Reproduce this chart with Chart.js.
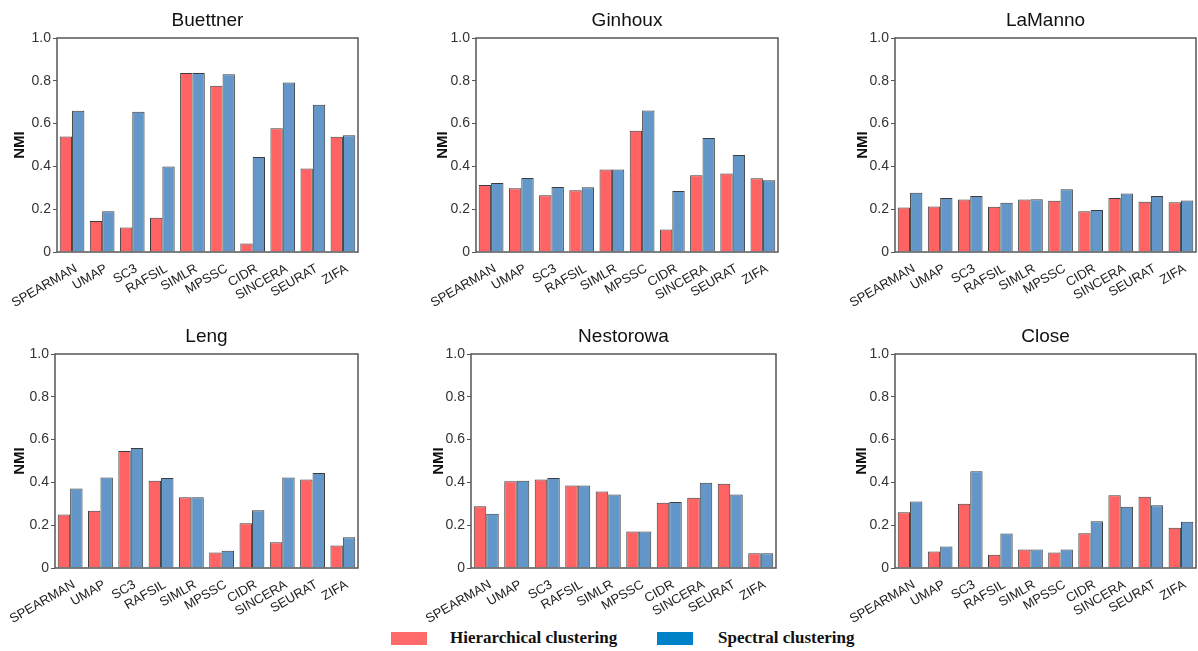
<!DOCTYPE html>
<html>
<head>
<meta charset="utf-8">
<script src="https://cdn.jsdelivr.net/npm/chart.js@4.4.0/dist/chart.umd.min.js"></script>
<style>
  body { margin: 0; background: #fff; width: 1198px; height: 651px; position: relative; overflow: hidden; }
  canvas { position: absolute; }
  .key { position: absolute; top: 632px; width: 36px; height: 13px; }
  .lab { position: absolute; top: 627px; font: bold 17px "Liberation Serif", "Times New Roman", serif; color: #111; line-height: 22px; }
</style>
</head>
<body>
<canvas id="c0" width="360" height="310" style="left:0px;top:0px"></canvas>
<canvas id="c1" width="357" height="310" style="left:423px;top:0px"></canvas>
<canvas id="c2" width="355" height="310" style="left:843px;top:0px"></canvas>
<canvas id="c3" width="360" height="310" style="left:0px;top:316px"></canvas>
<canvas id="c4" width="359" height="310" style="left:419px;top:316px"></canvas>
<canvas id="c5" width="356" height="310" style="left:842px;top:316px"></canvas>

<div class="key" style="left:391px;background:#ff6b6b"></div>
<div class="lab" style="left:450px">Hierarchical clustering</div>
<div class="key" style="left:657px;background:#0082c8"></div>
<div class="lab" style="left:718px">Spectral clustering</div>

<script>
// methods on the x axis
const methods = ['SPEARMAN', 'UMAP', 'SC3', 'RAFSIL', 'SIMLR', 'MPSSC', 'CIDR', 'SINCERA', 'SEURAT', 'ZIFA'];
const yTicks = [0, 0.2, 0.4, 0.6, 0.8, 1.0];
const seriesNames = ['Hierarchical clustering', 'Spectral clustering'];

// NMI values
const buettnerHier = [0.54, 0.145, 0.115, 0.16, 0.836, 0.777, 0.04, 0.578, 0.39, 0.538];
const buettnerSpec = [0.66, 0.19, 0.655, 0.40, 0.836, 0.831, 0.444, 0.792, 0.688, 0.545];

const ginhouxHier = [0.313, 0.298, 0.265, 0.288, 0.386, 0.567, 0.105, 0.359, 0.367, 0.345];
const ginhouxSpec = [0.323, 0.346, 0.304, 0.302, 0.386, 0.661, 0.285, 0.533, 0.453, 0.335];

const lamannoHier = [0.208, 0.213, 0.245, 0.212, 0.245, 0.24, 0.19, 0.252, 0.235, 0.232];
const lamannoSpec = [0.277, 0.252, 0.262, 0.23, 0.246, 0.293, 0.196, 0.273, 0.262, 0.241];

const lengHier = [0.25, 0.267, 0.547, 0.408, 0.331, 0.072, 0.209, 0.12, 0.413, 0.105];
const lengSpec = [0.372, 0.423, 0.561, 0.42, 0.331, 0.081, 0.27, 0.423, 0.444, 0.144];

const nestorowaHier = [0.288, 0.405, 0.413, 0.386, 0.358, 0.17, 0.305, 0.328, 0.394, 0.069];
const nestorowaSpec = [0.253, 0.408, 0.42, 0.386, 0.344, 0.17, 0.308, 0.398, 0.344, 0.069];

const closeHier = [0.261, 0.077, 0.30, 0.062, 0.086, 0.072, 0.162, 0.34, 0.333, 0.188];
const closeSpec = [0.311, 0.10, 0.452, 0.161, 0.086, 0.086, 0.219, 0.286, 0.293, 0.216];

const panels = [
  {id: 'c0', title: 'Buettner', hier: buettnerHier, spec: buettnerSpec, yW: 57},
  {id: 'c1', title: 'Ginhoux', hier: ginhouxHier, spec: ginhouxSpec, yW: 53},
  {id: 'c2', title: 'LaManno', hier: lamannoHier, spec: lamannoSpec, yW: 52},
  {id: 'c3', title: 'Leng', hier: lengHier, spec: lengSpec, yW: 55},
  {id: 'c4', title: 'Nestorowa', hier: nestorowaHier, spec: nestorowaSpec, yW: 52},
  {id: 'c5', title: 'Close', hier: closeHier, spec: closeSpec, yW: 53},
];

const RED = '#ff6363';
const BLUE = '#6497c9';
const SANS = '"Liberation Sans", Arial, sans-serif';

// box round the plot area
const frame = {
  id: 'frame',
  afterDraw(chart) {
    const {ctx, chartArea: a} = chart;
    ctx.save();
    ctx.strokeStyle = '#555';
    ctx.lineWidth = 1.5;
    ctx.strokeRect(a.left, a.top, a.right - a.left, a.bottom - a.top);
    ctx.restore();
  }
};

for (const p of panels) {
  new Chart(document.getElementById(p.id), {
    type: 'bar',
    data: {
      labels: methods,
      datasets: [
        {label: seriesNames[0], data: p.hier, backgroundColor: RED},
        {label: seriesNames[1], data: p.spec, backgroundColor: BLUE},
      ].map(d => Object.assign(d, {borderColor: '#3c3c3c', borderWidth: 1, categoryPercentage: 0.82, barPercentage: 1})),
    },
    options: {
      responsive: false,
      animation: false,
      layout: {padding: {right: 2}},
      plugins: {
        legend: {display: false},
        tooltip: {enabled: false},
        title: {
          display: true, fullSize: false, text: p.title, color: '#111',
          font: {family: SANS, size: 19, weight: 'normal'},
          padding: {top: 9, bottom: 6.2},
        },
      },
      scales: {
        x: {
          grid: {display: false},
          border: {display: false},
          ticks: {
            autoSkip: false, minRotation: 30, maxRotation: 30, padding: 1, labelOffset: 4,
            color: '#222', font: {family: SANS, size: 13},
          },
          afterFit(s) { s.height = 58; s.paddingLeft = 0; s.paddingRight = 0; },
        },
        y: {
          min: 0, max: 1,
          afterBuildTicks(s) { s.ticks = yTicks.map(v => ({value: v})); },
          grid: {drawOnChartArea: false, tickLength: 4, color: '#555'},
          border: {display: false},
          ticks: {
            padding: 2, color: '#333', font: {family: SANS, size: 14},
            callback: v => v === 0 ? '0' : v.toFixed(1),
          },
          title: {
            display: true, text: 'NMI', color: '#111',
            font: {family: SANS, size: 15, weight: 'bold'},
            padding: {top: 11, bottom: 0},
          },
          afterFit(s) { s.width = p.yW; },
        },
      },
    },
    plugins: [frame],
  });
}
</script>
</body>
</html>
